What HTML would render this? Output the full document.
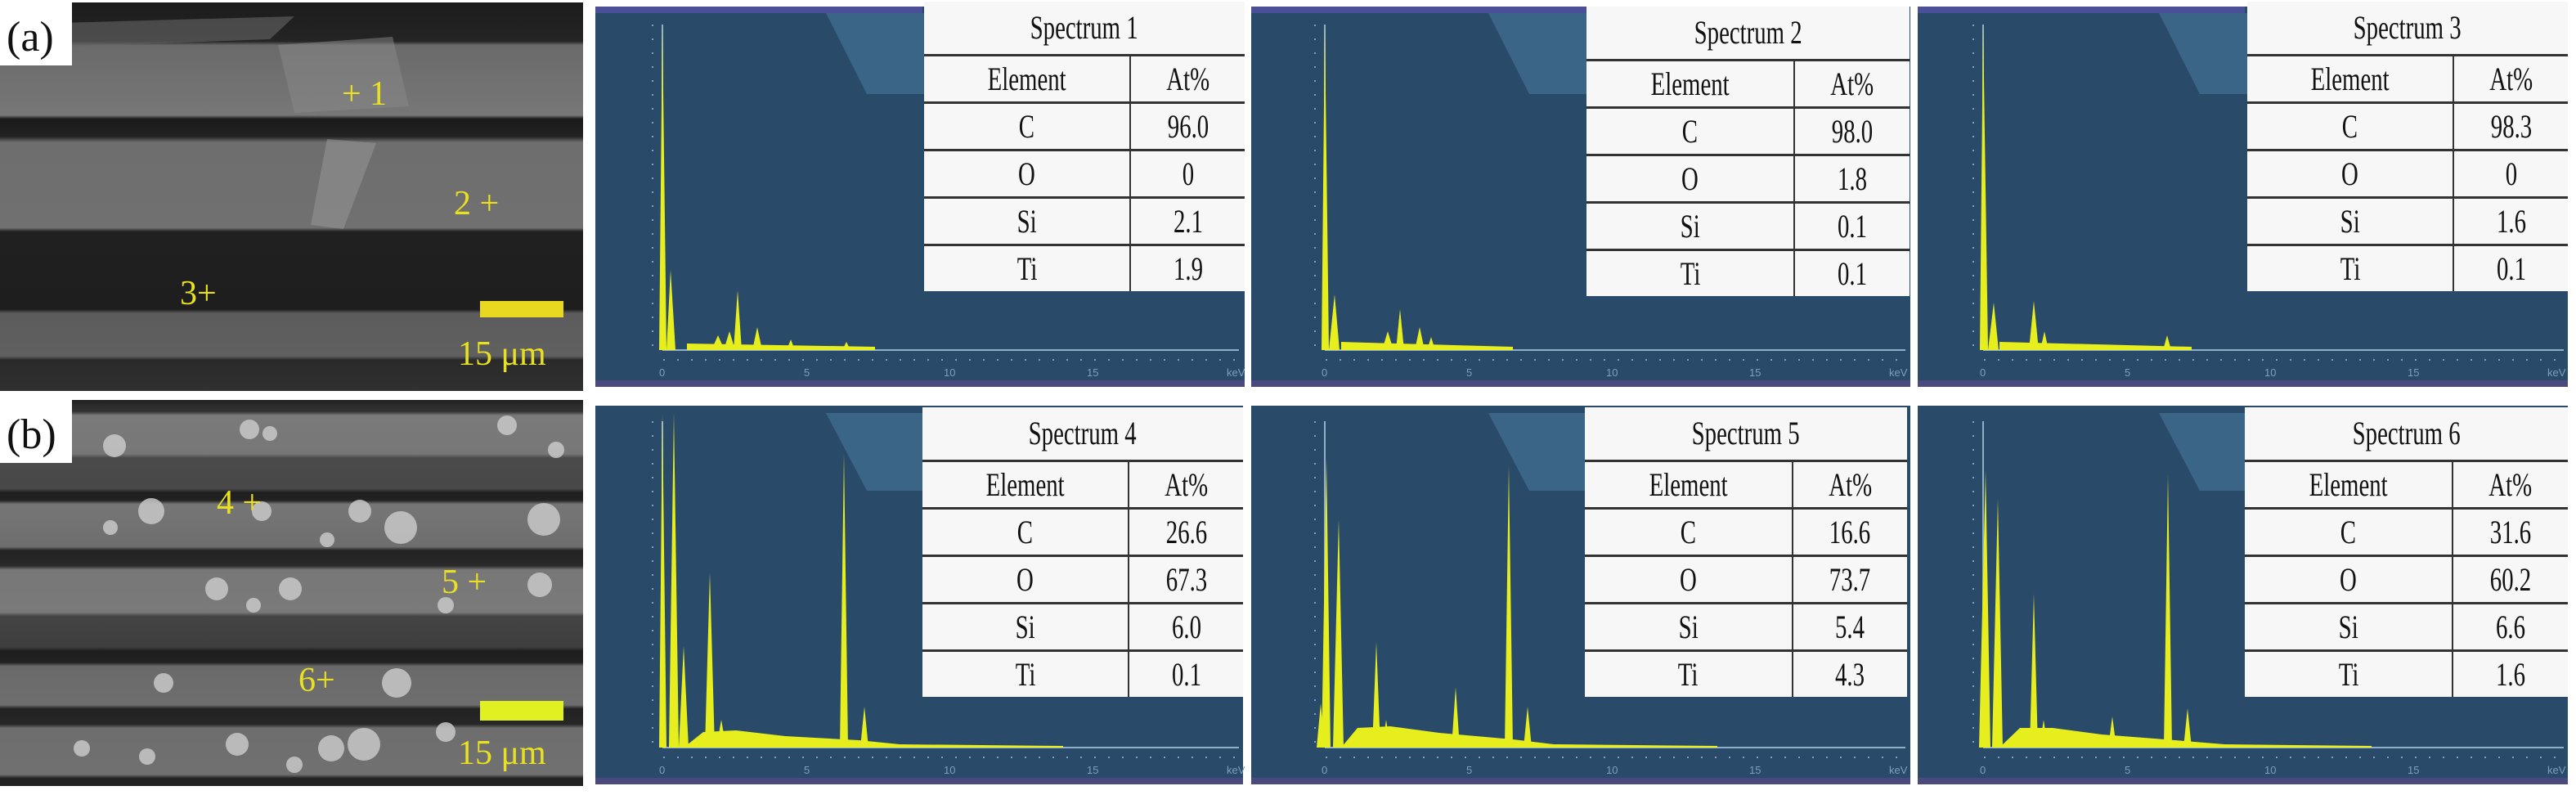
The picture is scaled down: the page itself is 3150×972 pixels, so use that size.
<!DOCTYPE html>
<html><head><meta charset="utf-8"><style>
html,body{margin:0;padding:0;background:#fff;}
body{width:3150px;height:972px;position:relative;overflow:hidden;font-family:"Liberation Serif",serif;}
svg{position:absolute;left:0;top:0;}
.t{position:absolute;background:#f7f7f7;border-collapse:collapse;color:#111;}
.t td{font-family:"Liberation Serif","DejaVu Serif",serif;border:0;border-top:3px solid #333;text-align:center;font-size:40px;line-height:40px;height:55px;padding:0;}
.t td span{display:inline-block;transform:scaleX(0.72);}
.t td+td{border-left:2px solid #333;}
.t tr:first-child td{border-top:none;height:64px;font-size:40px;}
</style></head><body>
<svg width="3150" height="972" viewBox="0 0 3150 972" xmlns="http://www.w3.org/2000/svg">
<defs>
<linearGradient id="sa" x1="0" y1="0" x2="0" y2="1">
<stop offset="0" stop-color="#1c1c1c"/><stop offset="0.10" stop-color="#242424"/>
<stop offset="0.11" stop-color="#6a6a6a"/><stop offset="0.29" stop-color="#777"/>
<stop offset="0.30" stop-color="#1a1a1a"/><stop offset="0.345" stop-color="#222"/>
<stop offset="0.36" stop-color="#6e6e6e"/><stop offset="0.58" stop-color="#707070"/>
<stop offset="0.59" stop-color="#202020"/><stop offset="0.79" stop-color="#1e1e1e"/>
<stop offset="0.80" stop-color="#5c5c5c"/><stop offset="0.91" stop-color="#606060"/>
<stop offset="0.92" stop-color="#2a2a2a"/><stop offset="1" stop-color="#303030"/>
</linearGradient>
<linearGradient id="sb" x1="0" y1="0" x2="0" y2="1">
<stop offset="0" stop-color="#222"/><stop offset="0.03" stop-color="#333"/>
<stop offset="0.04" stop-color="#7a7a7a"/><stop offset="0.14" stop-color="#777"/>
<stop offset="0.15" stop-color="#4a4a4a"/><stop offset="0.23" stop-color="#484848"/>
<stop offset="0.24" stop-color="#1e1e1e"/><stop offset="0.26" stop-color="#222"/>
<stop offset="0.27" stop-color="#767676"/><stop offset="0.38" stop-color="#6e6e6e"/>
<stop offset="0.39" stop-color="#222"/><stop offset="0.43" stop-color="#2a2a2a"/>
<stop offset="0.44" stop-color="#777"/><stop offset="0.55" stop-color="#7a7a7a"/>
<stop offset="0.56" stop-color="#444"/><stop offset="0.64" stop-color="#3e3e3e"/>
<stop offset="0.65" stop-color="#1e1e1e"/><stop offset="0.68" stop-color="#222"/>
<stop offset="0.69" stop-color="#6a6a6a"/><stop offset="0.79" stop-color="#6e6e6e"/>
<stop offset="0.80" stop-color="#222"/><stop offset="0.84" stop-color="#262626"/>
<stop offset="0.85" stop-color="#6e6e6e"/><stop offset="0.97" stop-color="#707070"/>
<stop offset="0.98" stop-color="#222"/><stop offset="1" stop-color="#222"/>
</linearGradient>
</defs>
<!-- SEM a -->
<rect x="0" y="3" width="713" height="475" fill="url(#sa)"/>
<polygon points="0,60 330,48 360,20 0,30" fill="#666" opacity="0.6"/>
<polygon points="340,55 480,45 500,130 360,138" fill="#8a8a8a" opacity="0.5"/>
<polygon points="400,170 460,175 420,280 380,275" fill="#999" opacity="0.5"/>
<rect x="0" y="0" width="88" height="80" fill="#fff"/>
<text x="8" y="62" font-size="52" fill="#111">(a)</text>
<g fill="#e8e020" font-size="42">
<text x="418" y="128">+ 1</text><text x="555" y="262">2 +</text><text x="220" y="372">3+</text>
<text x="560" y="446">15 μm</text></g>
<rect x="587" y="368" width="102" height="20" fill="#e8d820"/>
<!-- SEM b -->
<rect x="0" y="489" width="713" height="472" fill="url(#sb)"/>
<g fill="#c8c8c8" opacity="0.85">
<circle cx="305" cy="525" r="12"/><circle cx="140" cy="545" r="14"/><circle cx="330" cy="530" r="9"/><circle cx="620" cy="520" r="12"/><circle cx="680" cy="550" r="10"/>
<circle cx="185" cy="625" r="16"/><circle cx="440" cy="625" r="14"/><circle cx="490" cy="645" r="20"/><circle cx="665" cy="635" r="20"/><circle cx="320" cy="625" r="12"/><circle cx="135" cy="645" r="9"/><circle cx="400" cy="660" r="9"/>
<circle cx="265" cy="720" r="14"/><circle cx="355" cy="720" r="14"/><circle cx="660" cy="715" r="15"/><circle cx="310" cy="740" r="9"/><circle cx="545" cy="740" r="10"/>
<circle cx="200" cy="835" r="12"/><circle cx="485" cy="835" r="18"/>
<circle cx="290" cy="910" r="14"/><circle cx="405" cy="915" r="16"/><circle cx="445" cy="910" r="20"/><circle cx="180" cy="925" r="10"/><circle cx="100" cy="915" r="10"/><circle cx="545" cy="895" r="12"/><circle cx="360" cy="935" r="10"/>
</g>
<rect x="0" y="486" width="88" height="80" fill="#fff"/>
<text x="8" y="548" font-size="52" fill="#111">(b)</text>
<g fill="#e8e020" font-size="42">
<text x="265" y="628">4 +</text><text x="540" y="725">5 +</text><text x="365" y="845">6+</text>
<text x="560" y="934">15 μm</text></g>
<rect x="587" y="857" width="102" height="24" fill="#e0f020"/>

<g id="panels">
<rect x="728" y="8" width="794" height="465" fill="#294a69"/>
<rect x="1530" y="8" width="806" height="465" fill="#294a69"/>
<rect x="2345" y="8" width="795" height="465" fill="#294a69"/>
<rect x="728" y="496" width="792" height="463" fill="#294a69"/>
<rect x="1530" y="496" width="806" height="463" fill="#294a69"/>
<rect x="2345" y="496" width="795" height="463" fill="#294a69"/>
<polygon points="1010,16 1130,16 1130,115 1060,115" fill="#3a6587"/>
<polygon points="1820,16 1940,16 1940,115 1870,115" fill="#3a6587"/>
<polygon points="2640,16 2748,16 2748,115 2690,115" fill="#3a6587"/>
<polygon points="1010,505 1128,505 1128,600 1060,600" fill="#3a6587"/>
<polygon points="1820,505 1938,505 1938,600 1870,600" fill="#3a6587"/>
<polygon points="2640,505 2745,505 2745,600 2690,600" fill="#3a6587"/>
<rect x="728" y="8" width="400" height="8" fill="#4a4f98"/>
<rect x="1530" y="8" width="410" height="8" fill="#4a4f98"/>
<rect x="2345" y="8" width="400" height="8" fill="#4a4f98"/>
<rect x="728" y="465" width="794" height="8" fill="#4a4a7e"/>
<rect x="1530" y="465" width="806" height="8" fill="#4a4a7e"/>
<rect x="2345" y="465" width="795" height="8" fill="#4a4a7e"/>
<rect x="728" y="951" width="792" height="8" fill="#4a4a7e"/>
<rect x="1530" y="951" width="806" height="8" fill="#4a4a7e"/>
<rect x="2345" y="951" width="795" height="8" fill="#4a4a7e"/>
</g>
<g stroke="#8fb0c8" stroke-width="2">
<line x1="810" y1="30" x2="810" y2="428"/><line x1="810" y1="428" x2="1515" y2="428"/>
<line x1="1620" y1="30" x2="1620" y2="428"/><line x1="1620" y1="428" x2="2330" y2="428"/>
<line x1="2425" y1="30" x2="2425" y2="428"/><line x1="2425" y1="428" x2="3135" y2="428"/>
<line x1="810" y1="515" x2="810" y2="914"/><line x1="810" y1="914" x2="1515" y2="914"/>
<line x1="1620" y1="515" x2="1620" y2="914"/><line x1="1620" y1="914" x2="2330" y2="914"/>
<line x1="2425" y1="515" x2="2425" y2="914"/><line x1="2425" y1="914" x2="3135" y2="914"/>
</g>
<g stroke="#7f9fbe" stroke-width="2" stroke-dasharray="2 15">
<line x1="811" y1="440" x2="1515" y2="440"/><line x1="1621" y1="440" x2="2330" y2="440"/><line x1="2426" y1="440" x2="3135" y2="440"/>
<line x1="811" y1="926" x2="1515" y2="926"/><line x1="1621" y1="926" x2="2330" y2="926"/><line x1="2426" y1="926" x2="3135" y2="926"/>
<line x1="798" y1="30" x2="798" y2="428"/><line x1="1608" y1="30" x2="1608" y2="428"/><line x1="2413" y1="30" x2="2413" y2="428"/>
<line x1="798" y1="515" x2="798" y2="914"/><line x1="1608" y1="515" x2="1608" y2="914"/><line x1="2413" y1="515" x2="2413" y2="914"/>
</g>
<g fill="#7f9fbe" font-size="13" font-family="Liberation Sans,sans-serif">
<text x="806" y="460">0</text><text x="983" y="460">5</text><text x="1154" y="460">10</text><text x="1329" y="460">15</text><text x="1500" y="460">keV</text>
<text x="1616" y="460">0</text><text x="1793" y="460">5</text><text x="1964" y="460">10</text><text x="2139" y="460">15</text><text x="2310" y="460">keV</text>
<text x="2421" y="460">0</text><text x="2598" y="460">5</text><text x="2769" y="460">10</text><text x="2944" y="460">15</text><text x="3115" y="460">keV</text>
<text x="806" y="946">0</text><text x="983" y="946">5</text><text x="1154" y="946">10</text><text x="1329" y="946">15</text><text x="1500" y="946">keV</text>
<text x="1616" y="946">0</text><text x="1793" y="946">5</text><text x="1964" y="946">10</text><text x="2139" y="946">15</text><text x="2310" y="946">keV</text>
<text x="2421" y="946">0</text><text x="2598" y="946">5</text><text x="2769" y="946">10</text><text x="2944" y="946">15</text><text x="3115" y="946">keV</text>
</g>
<g fill="#e6ee1e">
<polygon points="806,428 810,30 815,428"/>
<polygon points="815,428 820,330 826,428"/>
<polygon points="840,428 1070,428 1070,424 840,420"/>
<polygon points="870,428 878,410 886,428"/><polygon points="885,428 892,405 899,428"/><polygon points="897,428 902,355 907,428"/><polygon points="920,428 926,400 932,428"/><polygon points="962,428 967,415 972,428"/><polygon points="1030,428 1035,418 1040,428"/>
<polygon points="1616,428 1620,30 1625,428"/><polygon points="1625,428 1632,360 1638,428"/>
<polygon points="1640,428 1850,428 1850,424 1640,418"/>
<polygon points="1690,428 1697,405 1704,428"/><polygon points="1707,428 1712,378 1717,428"/><polygon points="1730,428 1736,400 1742,428"/><polygon points="1745,428 1750,412 1755,428"/>
<polygon points="2421,428 2425,30 2431,428"/><polygon points="2431,428 2438,370 2444,428"/>
<polygon points="2445,428 2680,428 2680,424 2445,418"/>
<polygon points="2481,428 2487,368 2493,428"/><polygon points="2495,428 2500,405 2505,428"/><polygon points="2645,428 2650,410 2655,428"/>
<polygon points="806,914 810,505 815,914"/><polygon points="818,914 824,505 830,914"/><polygon points="830,914 836,790 842,914"/>
<polygon points="836,914 860,895 900,893 960,900 1050,905 1100,910 1300,912 1300,914"/>
<polygon points="862,914 868,700 874,914"/><polygon points="876,914 882,880 888,914"/>
<polygon points="1027,914 1032,555 1037,914"/><polygon points="1052,914 1057,864 1062,914"/>
<polygon points="1616,914 1622,560 1627,914"/><polygon points="1630,914 1637,635 1643,914"/><polygon points="1610,914 1615,860 1620,914"/>
<polygon points="1640,914 1660,890 1700,888 1760,896 1850,904 1900,910 2100,912 2100,914"/>
<polygon points="1678,914 1683,785 1688,914"/><polygon points="1690,914 1695,880 1700,914"/>
<polygon points="1775,914 1780,840 1785,914"/>
<polygon points="1840,914 1845,570 1850,914"/><polygon points="1863,914 1868,864 1873,914"/>
<polygon points="2420,914 2428,575 2434,914"/><polygon points="2436,914 2443,610 2449,914"/>
<polygon points="2445,914 2470,890 2510,890 2570,898 2660,905 2720,910 2900,912 2900,914"/>
<polygon points="2482,914 2487,726 2492,914"/><polygon points="2494,914 2499,880 2504,914"/>
<polygon points="2578,914 2583,876 2588,914"/>
<polygon points="2646,914 2651,580 2656,914"/><polygon points="2670,914 2675,866 2680,914"/>
</g>
</svg>

<table class="t" style="left:1130px;top:2px;width:392px;">
<tr><td colspan="2"><span>Spectrum 1</span></td></tr>
<tr><td><span>Element</span></td><td><span>At%</span></td></tr><tr><td><span>C</span></td><td><span>96.0</span></td></tr><tr><td><span>O</span></td><td><span>0</span></td></tr><tr><td><span>Si</span></td><td><span>2.1</span></td></tr><tr><td><span>Ti</span></td><td><span>1.9</span></td></tr></table>
<table class="t" style="left:1940px;top:8px;width:395px;">
<tr><td colspan="2"><span>Spectrum 2</span></td></tr>
<tr><td><span>Element</span></td><td><span>At%</span></td></tr><tr><td><span>C</span></td><td><span>98.0</span></td></tr><tr><td><span>O</span></td><td><span>1.8</span></td></tr><tr><td><span>Si</span></td><td><span>0.1</span></td></tr><tr><td><span>Ti</span></td><td><span>0.1</span></td></tr></table>
<table class="t" style="left:2748px;top:2px;width:392px;">
<tr><td colspan="2"><span>Spectrum 3</span></td></tr>
<tr><td><span>Element</span></td><td><span>At%</span></td></tr><tr><td><span>C</span></td><td><span>98.3</span></td></tr><tr><td><span>O</span></td><td><span>0</span></td></tr><tr><td><span>Si</span></td><td><span>1.6</span></td></tr><tr><td><span>Ti</span></td><td><span>0.1</span></td></tr></table>
<table class="t" style="left:1128px;top:498px;width:392px;">
<tr><td colspan="2"><span>Spectrum 4</span></td></tr>
<tr><td><span>Element</span></td><td><span>At%</span></td></tr><tr><td><span>C</span></td><td><span>26.6</span></td></tr><tr><td><span>O</span></td><td><span>67.3</span></td></tr><tr><td><span>Si</span></td><td><span>6.0</span></td></tr><tr><td><span>Ti</span></td><td><span>0.1</span></td></tr></table>
<table class="t" style="left:1938px;top:498px;width:394px;">
<tr><td colspan="2"><span>Spectrum 5</span></td></tr>
<tr><td><span>Element</span></td><td><span>At%</span></td></tr><tr><td><span>C</span></td><td><span>16.6</span></td></tr><tr><td><span>O</span></td><td><span>73.7</span></td></tr><tr><td><span>Si</span></td><td><span>5.4</span></td></tr><tr><td><span>Ti</span></td><td><span>4.3</span></td></tr></table>
<table class="t" style="left:2745px;top:498px;width:395px;">
<tr><td colspan="2"><span>Spectrum 6</span></td></tr>
<tr><td><span>Element</span></td><td><span>At%</span></td></tr><tr><td><span>C</span></td><td><span>31.6</span></td></tr><tr><td><span>O</span></td><td><span>60.2</span></td></tr><tr><td><span>Si</span></td><td><span>6.6</span></td></tr><tr><td><span>Ti</span></td><td><span>1.6</span></td></tr></table>
</body></html>
